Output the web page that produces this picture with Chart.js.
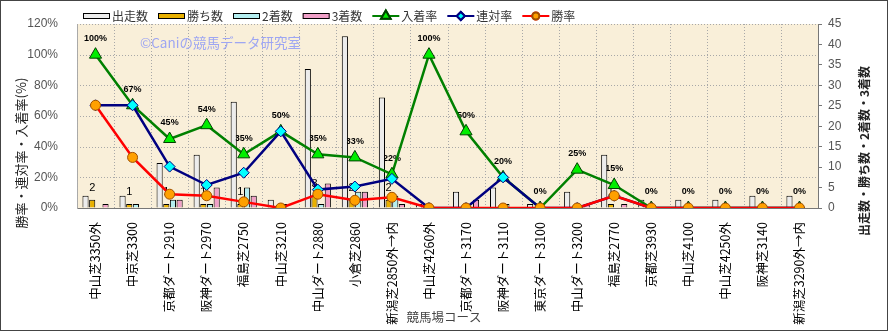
<!DOCTYPE html>
<html>
<head>
<meta charset="utf-8">
<script src="https://cdn.jsdelivr.net/npm/chart.js@4.4.0/dist/chart.umd.min.js"></script>
<style>
  html, body { margin: 0; padding: 0; background: #fff; }
  canvas { display: block; }
</style>
</head>
<body>
<canvas id="chart" width="889" height="332"></canvas>
<script>
// course names (x categories)
const courses = [
  '中山芝3350外', '中京芝3300', '京都ダート2910', '阪神ダート2970', '福島芝2750',
  '中山芝3210', '中山ダート2880', '小倉芝2860', '新潟芝2850外→内', '中山芝4260外',
  '京都ダート3170', '阪神ダート3110', '東京ダート3100', '中山ダート3200', '福島芝2770',
  '京都芝3930', '中山芝4100', '中山芝4250外', '阪神芝3140', '新潟芝3290外→内'
];

// counts (right axis)
const starts  = [3, 3, 11, 13, 26, 2, 34, 42, 27, 1, 4, 5, 1, 4, 13, 2, 2, 2, 3, 3];
const wins    = [2, 1, 1, 1, 1, 0, 3, 2, 2, 0, 0, 0, 0, 0, 1, 0, 0, 0, 0, 0];
const seconds = [0, 1, 2, 1, 5, 1, 1, 4, 3, 0, 0, 1, 0, 0, 0, 0, 0, 0, 0, 0];
const thirds  = [1, 0, 2, 5, 3, 0, 6, 4, 1, 0, 2, 0, 0, 1, 1, 0, 0, 0, 0, 0];

// rates in % (left axis)
const placeRate  = [100, 67, 45, 54, 35, 50, 35, 33, 22, 100, 50, 20, 0, 25, 15, 0, 0, 0, 0, 0];
const rentaiRate = [67, 67, 27, 15, 23, 50, 12, 14, 19, 0, 0, 20, 0, 0, 8, 0, 0, 0, 0, 0];
const winRate    = [67, 33, 9, 8, 4, 0, 9, 5, 7, 0, 0, 0, 0, 0, 8, 0, 0, 0, 0, 0];

const jp = '"Noto Sans CJK JP", "Noto Sans", sans-serif';
const latin = '"Liberation Sans", Arial, sans-serif';

// dotted grid, watermark and data labels (drawn under the marks)
const decor = {
  id: 'decor',
  beforeDraw(chart) {
    const { ctx, chartArea: a } = chart;
    ctx.save();
    ctx.fillStyle = '#ffffff';
    ctx.fillRect(0, 0, chart.width, chart.height);
    ctx.fillStyle = '#f9efd9';
    ctx.fillRect(a.left, a.top, a.right - a.left, a.bottom - a.top);
    ctx.restore();
  },
  beforeDatasetsDraw(chart) {
    const { ctx, chartArea: a, scales } = chart;
    const x = scales.x, y = scales.y;
    ctx.save();
    ctx.strokeStyle = '#a8a8a8';
    ctx.lineWidth = 1;
    ctx.setLineDash([1, 2]);
    y.ticks.forEach(t => {
      const py = Math.round(y.getPixelForValue(t.value)) + 0.5;
      if (py > a.bottom - 1) return;
      ctx.beginPath(); ctx.moveTo(a.left, py); ctx.lineTo(a.right, py); ctx.stroke();
    });
    for (let i = 0; i < courses.length; i++) {
      const px = Math.round(i === 0 ? a.left : (x.getPixelForValue(i - 1) + x.getPixelForValue(i)) / 2) + 0.5;
      ctx.beginPath(); ctx.moveTo(px, a.top); ctx.lineTo(px, a.bottom); ctx.stroke();
    }
    ctx.setLineDash([]);

    // watermark
    ctx.font = '13.5px ' + jp;
    ctx.fillStyle = '#9ea6f2';
    ctx.textBaseline = 'middle';
    ctx.textAlign = 'left';
    ctx.fillText('©Caniの競馬データ研究室', 140, 43);

    // 入着率 labels
    ctx.fillStyle = '#000';
    ctx.textAlign = 'center';
    ctx.font = 'bold 9px ' + latin;
    placeRate.forEach((v, i) => {
      ctx.fillText(v + '%', x.getPixelForValue(i), y.getPixelForValue(v) - 16);
    });

    // 勝ち数 labels
    const winMeta = chart.getDatasetMeta(1);
    ctx.font = '11px ' + latin;
    wins.forEach((v, i) => {
      if (!v) return;
      const el = winMeta.data[i];
      ctx.fillText(String(v), el.x, el.y - 12);
    });
    ctx.restore();
  },
  afterDraw(chart) {
    const { ctx } = chart;
    ctx.save();
    // legend
    let lx = 83;
    const ly = 16;
    ctx.font = '12px ' + jp;
    ctx.textBaseline = 'middle';
    ctx.textAlign = 'left';
    chart.data.datasets.forEach(ds => {
      if (ds.type === 'bar') {
        ctx.fillStyle = ds.backgroundColor;
        ctx.fillRect(lx, ly - 2.5, 27, 5);
        ctx.strokeStyle = '#000';
        ctx.lineWidth = 1;
        ctx.strokeRect(lx + 0.5, ly - 2.5, 26, 5);
      } else {
        ctx.strokeStyle = ds.borderColor;
        ctx.lineWidth = 2;
        ctx.beginPath(); ctx.moveTo(lx, ly); ctx.lineTo(lx + 27, ly); ctx.stroke();
        Chart.helpers.drawPoint(ctx, {
          pointStyle: ds.pointStyle, radius: ds.pointRadius - 1.5, borderWidth: 1, rotation: 0
        }, lx + 13.5, ly);
        ctx.fillStyle = ds.pointBackgroundColor;
        ctx.strokeStyle = ds.pointBorderColor;
        ctx.beginPath();
        Chart.helpers.drawPoint(ctx, {
          pointStyle: ds.pointStyle, radius: ds.pointRadius - 1.5, borderWidth: 1, rotation: 0
        }, lx + 13.5, ly);
      }
      lx += 29;
      ctx.fillStyle = '#333';
      ctx.fillText(ds.label, lx, ly);
      lx += ctx.measureText(ds.label).width + 10;
    });

    // axis titles
    ctx.fillStyle = '#222';
    ctx.textAlign = 'center';
    ctx.font = '13px ' + jp;
    ctx.save();
    ctx.translate(21, 153);
    ctx.rotate(-Math.PI / 2);
    ctx.fillText('勝率・連対率・入着率(%)', 0, 0);
    ctx.restore();
    ctx.save();
    ctx.translate(864, 151);
    ctx.rotate(-Math.PI / 2);
    ctx.font = 'bold 12px ' + jp;
    ctx.fillText('出走数・勝ち数・2着数・3着数', 0, 0);
    ctx.restore();
    ctx.fillStyle = '#444';
    ctx.font = '12.5px ' + jp;
    ctx.fillText('競馬場コース', 444, 317);

    // outer frame
    ctx.strokeStyle = '#444';
    ctx.lineWidth = 1;
    ctx.strokeRect(0.5, 0.5, 887, 330);
    ctx.restore();
  }
};

const barBase = { type: 'bar', yAxisID: 'y1', borderColor: '#000', borderWidth: 1, order: 10,
  categoryPercentage: 0.72, barPercentage: 0.92 };
const lineBase = { type: 'line', yAxisID: 'y', borderWidth: 2.5, tension: 0, fill: false,
  pointBorderWidth: 1 };

new Chart(document.getElementById('chart'), {
  data: {
    labels: courses,
    datasets: [
      { ...barBase, label: '出走数', data: starts, backgroundColor: '#ececec' },
      { ...barBase, label: '勝ち数', data: wins, backgroundColor: '#e8b000' },
      { ...barBase, label: '2着数', data: seconds, backgroundColor: '#b4eef0' },
      { ...barBase, label: '3着数', data: thirds, backgroundColor: '#f0a0c8' },
      { ...lineBase, label: '入着率', data: placeRate, borderColor: '#008000', order: 3,
        pointStyle: 'triangle', pointRadius: 7, pointBackgroundColor: '#00ee00', pointBorderColor: '#004000' },
      { ...lineBase, label: '連対率', data: rentaiRate, borderColor: '#000080', order: 2,
        pointStyle: 'rectRot', pointRadius: 5.5, pointBackgroundColor: '#00ffff', pointBorderColor: '#000080' },
      { ...lineBase, label: '勝率', data: winRate, borderColor: '#ff0000', order: 1,
        pointStyle: 'circle', pointRadius: 5, pointBackgroundColor: '#ffa000', pointBorderColor: '#a05000' }
    ]
  },
  options: {
    responsive: false,
    animation: false,
    layout: { padding: { top: 24, left: 0, right: 0, bottom: 0 } },
    plugins: { legend: { display: false }, tooltip: { enabled: false } },
    scales: {
      x: {
        grid: { display: false },
        border: { display: true, color: '#777' },
        ticks: { minRotation: 90, maxRotation: 90, autoSkip: false, padding: 6,
          color: '#000', font: { family: jp, size: 12.5 } },
        afterFit(s) { s.height = 124; }
      },
      y: {
        position: 'left', min: 0, max: 120,
        grid: { display: false },
        border: { display: true, color: '#aaa' },
        ticks: { stepSize: 20, padding: 11, color: '#555', font: { family: latin, size: 12 },
          callback: v => v + '%' },
        afterFit(s) { s.width = 77; }
      },
      y1: {
        position: 'right', min: 0, max: 45,
        grid: { display: true, drawOnChartArea: false, tickLength: 4, color: '#777' },
        border: { display: true, color: '#777' },
        ticks: { stepSize: 5, padding: 6, color: '#555', font: { family: latin, size: 12 } },
        afterFit(s) { s.width = 71; }
      }
    }
  },
  plugins: [decor]
});
</script>
</body>
</html>
